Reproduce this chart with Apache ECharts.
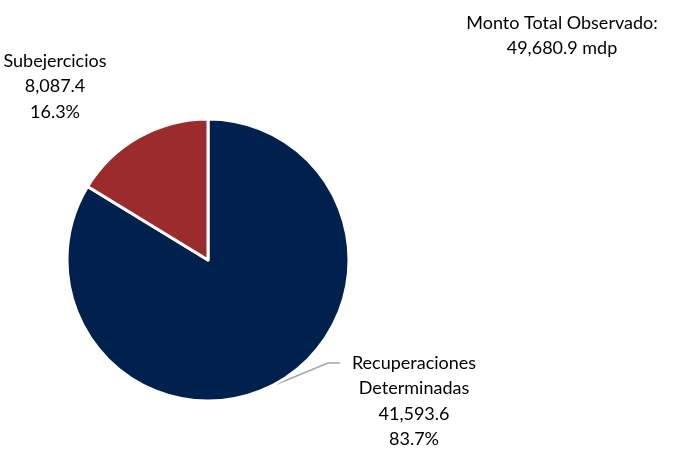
<!DOCTYPE html>
<html>
<head>
<meta charset="utf-8">
<script src="https://cdn.jsdelivr.net/npm/echarts@6/dist/echarts.min.js"></script>
<style>html,body{margin:0;padding:0;background:#fff}#c{width:680px;height:451px}</style>
</head>
<body>
<div id="c"></div>
<script>
const categories = ['Recuperaciones\nDeterminadas', 'Subejercicios'];
const values = [41593.6, 8087.4];
const percents = ['83.7%', '16.3%'];
const colors = ['#00214D', '#9B2B2C'];
const totalText = 'Monto Total Observado:\n49,680.9 mdp';

const fmt = v => v.toLocaleString('en-US', {minimumFractionDigits: 1, maximumFractionDigits: 1});
const chart = echarts.init(document.getElementById('c'));
const FONT = 'Lato';
chart.setOption({
  animation: false,
  title: {
    text: totalText,
    left: 557, top: 5, textAlign: 'center',
    textStyle: {fontFamily: FONT, fontSize: 18, fontWeight: 'normal', color: '#000', lineHeight: 25.5}
  },
  series: [{
    type: 'pie',
    center: [208, 260],
    radius: [0, 141],
    startAngle: 90,
    clockwise: true,
    data: categories.map((c, i) => ({
      name: c, value: values[i],
      itemStyle: {color: colors[i]},
      label: {formatter: c + '\n' + fmt(values[i]) + '\n' + percents[i]},
      labelLine: {show: i === 0}
    })),
    itemStyle: {borderColor: '#fff', borderWidth: 3},
    label: {
      show: true, position: 'outside', overflow: 'none',
      fontFamily: FONT, fontSize: 18, color: '#000', lineHeight: 25.5, align: 'center'
    },
    labelLine: {show: true, lineStyle: {color: '#A6A6A6', width: 1.5}},
    labelLayout: function (p) {
      if (p.dataIndex === 0) {
        return {x: 414, y: 350, align: 'center', verticalAlign: 'top',
          labelLinePoints: [[277, 384], [328, 363], [340, 363]]};
      }
      return {x: 55, y: 48, align: 'center', verticalAlign: 'top'};
    }
  }]
});
</script>
</body>
</html>
